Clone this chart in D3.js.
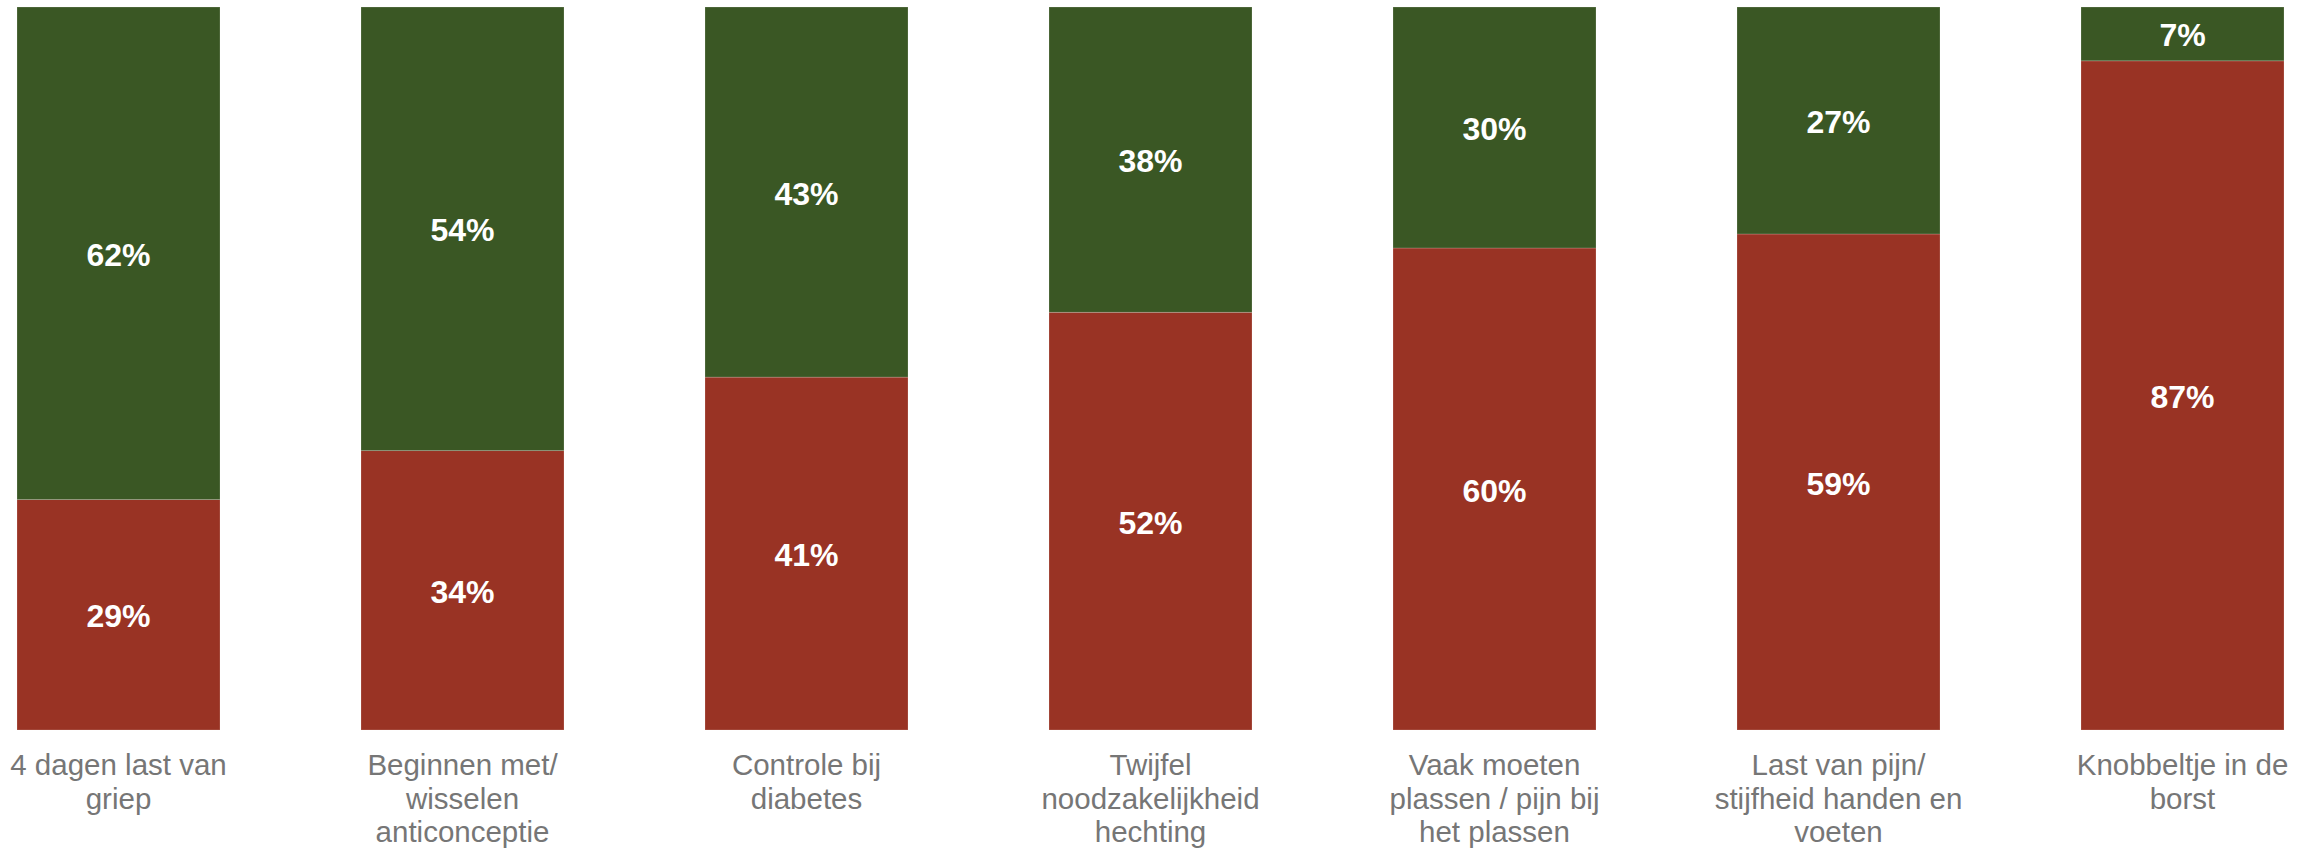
<!DOCTYPE html>
<html>
<head>
<meta charset="utf-8">
<script src="https://cdn.jsdelivr.net/npm/d3@7"></script>
<style>
  html, body { margin: 0; padding: 0; background: #ffffff; }
  svg { display: block; }
</style>
</head>
<body>
<svg id="chart" width="2313" height="849"></svg>
<script>
// Category labels, one array entry per printed line
const categories = [
  ["4 dagen last van", "griep"],
  ["Beginnen met/", "wisselen", "anticonceptie"],
  ["Controle bij", "diabetes"],
  ["Twijfel", "noodzakelijkheid", "hechting"],
  ["Vaak moeten", "plassen / pijn bij", "het plassen"],
  ["Last van pijn/", "stijfheid handen en", "voeten"],
  ["Knobbeltje in de", "borst"]
];
// Bottom (red) series and top (green) series, in percent
const redValues = [29, 34, 41, 52, 60, 59, 87];
const greenValues = [62, 54, 43, 38, 30, 27, 7];
const seriesKeys = ["red", "green"];
const seriesColors = { red: "#993324", green: "#3A5724" };

const rows = categories.map((c, i) => ({
  key: i,
  red: redValues[i],
  green: greenValues[i]
}));

const svg = d3.select("#chart");
const plot = { left: 17, right: 2284, top: 7, bottom: 730 };

const x = d3.scaleBand()
  .domain(rows.map(d => d.key))
  .range([plot.left, plot.right])
  .paddingInner(141 / 344)
  .paddingOuter(0);

// Each bar is normalised to its own total (100% stacked)
const y = d3.scaleLinear().domain([0, 1]).range([plot.bottom, plot.top]);

const stacked = d3.stack()
  .keys(seriesKeys)
  .offset(d3.stackOffsetExpand)(rows);

const layers = svg.append("g")
  .selectAll("g")
  .data(stacked)
  .join("g")
  .attr("fill", s => seriesColors[s.key]);

layers.selectAll("rect")
  .data(s => s.map(p => ({ p, key: s.key })))
  .join("rect")
  .attr("x", d => x(d.p.data.key))
  .attr("width", x.bandwidth())
  .attr("y", d => y(d.p[1]))
  .attr("height", d => y(d.p[0]) - y(d.p[1]))
  .attr("stroke", "rgba(255,255,255,0.25)")
  .attr("stroke-width", 0.75);

// Value labels centred in each segment
layers.selectAll("text")
  .data(s => s.map(p => ({ p, key: s.key })))
  .join("text")
  .attr("x", d => x(d.p.data.key) + x.bandwidth() / 2)
  .attr("y", d => (y(d.p[0]) + y(d.p[1])) / 2 + 1)
  .attr("dy", "0.36em")
  .attr("text-anchor", "middle")
  .attr("fill", "#ffffff")
  .attr("font-family", "Liberation Sans, Arial, sans-serif")
  .attr("font-weight", "bold")
  .attr("font-size", 32)
  .text(d => d.p.data[d.key] + "%");

// Category axis labels
const xAxis = svg.append("g");
xAxis.selectAll("text")
  .data(rows)
  .join("text")
  .attr("x", d => x(d.key) + x.bandwidth() / 2)
  .attr("y", 775)
  .attr("text-anchor", "middle")
  .attr("fill", "#767676")
  .attr("font-family", "Liberation Sans, Arial, sans-serif")
  .attr("font-size", 29.5)
  .each(function(d) {
    const t = d3.select(this);
    categories[d.key].forEach((line, i) => {
      t.append("tspan")
        .attr("x", x(d.key) + x.bandwidth() / 2)
        .attr("dy", i === 0 ? 0 : 33.5)
        .text(line);
    });
  });
</script>
</body>
</html>
